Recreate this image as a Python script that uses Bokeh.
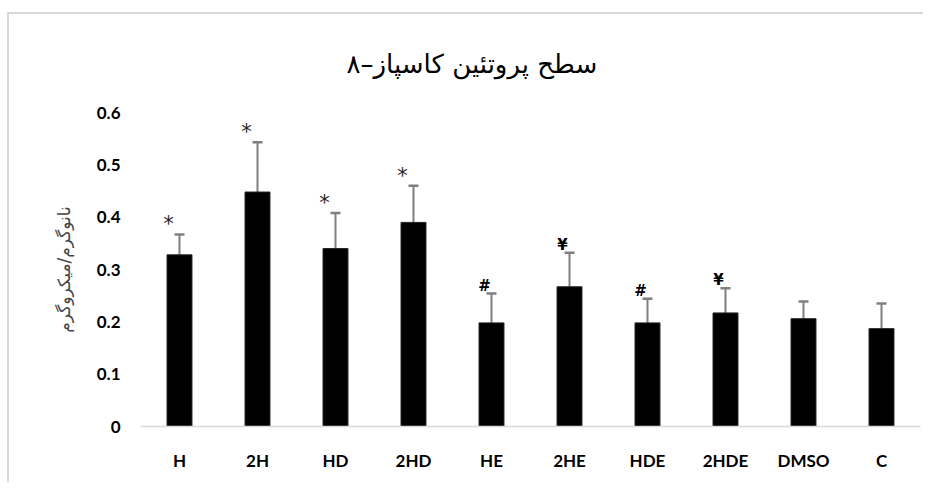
from bokeh.plotting import figure
from bokeh.models import ColumnDataSource, FactorRange, FixedTicker, Whisker, TeeHead, Title
from bokeh.core.properties import value
from bokeh.embed import file_html
from bokeh.resources import INLINE

groups = ["H", "2H", "HD", "2HD", "HE", "2HE", "HDE", "2HDE", "DMSO", "C"]
means = [0.328, 0.448, 0.340, 0.390, 0.198, 0.267, 0.198, 0.217, 0.206, 0.187]
errors = [0.039, 0.095, 0.068, 0.070, 0.056, 0.065, 0.046, 0.047, 0.033, 0.048]
marks = ["*", "*", "*", "*", "#", "¥", "#", "¥", "", ""]
y_ticks = [0, 0.1, 0.2, 0.3, 0.4, 0.5, 0.6]

title_text = "سطح پروتئین کاسپاز–۸"
y_label = "نانوگرم/میکروگرم"

upper = [m + e for m, e in zip(means, errors)]
src = ColumnDataSource(dict(g=groups, m=means, up=upper, mk=marks))

p = figure(x_range=FactorRange(*groups), y_range=(0, 0.6), width=916, height=470,
           output_backend="svg", toolbar_location=None,
           min_border_left=131, min_border_right=5, min_border_top=96, min_border_bottom=58)
p.styles = {"margin-left": "7px", "margin-top": "12px",
            "border-left": "2px solid #d9d9d9", "border-top": "2px solid #d9d9d9"}
p.x_range.range_padding = 0
p.outline_line_color = None
p.xgrid.grid_line_color = None
p.ygrid.grid_line_color = None

p.vbar(x="g", top="m", width=0.32, bottom=0, source=src, fill_color="black", line_color="#222222", line_width=1)
w = Whisker(base="g", lower="m", upper="up", source=src, line_color="#7f7f7f", line_width=2,
            upper_head=TeeHead(size=10, line_color="#7f7f7f", line_width=2.5), lower_head=None)
p.add_layout(w)

src_star = ColumnDataSource(dict(g=groups[:4], up=upper[:4], mk=marks[:4]))
src_sym = ColumnDataSource(dict(g=groups[4:8], up=upper[4:8], mk=marks[4:8]))
p.text(x="g", y="up", text="mk", source=src_star, x_offset=-11, y_offset=2,
       text_align="center", text_baseline="bottom", text_font=value("DejaVu Sans"),
       text_font_size="21px", text_color="#262626")
p.text(x="g", y="up", text="mk", source=src_sym, x_offset=-7, y_offset=1,
       text_align="center", text_baseline="bottom", text_font=value("DejaVu Sans"),
       text_font_size="15px", text_color="black", text_font_style="bold")

t = Title(text=title_text, align="left", offset=206, standoff=66, vertical_align="middle",
          text_font="DejaVu Sans", text_font_size="26px", text_font_style="normal", text_color="black")
p.add_layout(t, "above")

p.yaxis.ticker = FixedTicker(ticks=y_ticks)
p.yaxis.major_label_overrides = {0: "0"}
p.yaxis.axis_line_color = None
p.yaxis.major_tick_line_color = None
p.yaxis.minor_tick_line_color = None
p.yaxis.major_label_standoff = 14
p.yaxis.major_label_text_font = "Lato"
p.yaxis.major_label_text_font_style = "bold"
p.yaxis.major_label_text_font_size = "17px"
p.yaxis.major_label_text_color = "black"
p.yaxis.axis_label = y_label
p.yaxis.axis_label_text_font = "DejaVu Sans"
p.yaxis.axis_label_text_font_style = "normal"
p.yaxis.axis_label_text_font_size = "17px"
p.yaxis.axis_label_standoff = 20

p.xaxis.axis_line_color = "#d9d9d9"
p.xaxis.axis_line_width = 1.5
p.xaxis.major_tick_line_color = None
p.xaxis.minor_tick_line_color = None
p.xaxis.major_label_standoff = 17
p.xaxis.major_label_text_font = "Lato"
p.xaxis.major_label_text_font_style = "bold"
p.xaxis.major_label_text_font_size = "17px"
p.xaxis.major_label_text_color = "black"

open("out.html", "w").write(file_html(p, INLINE))
